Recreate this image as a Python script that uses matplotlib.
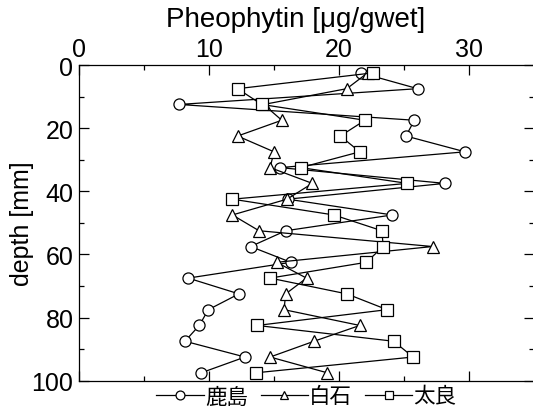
import matplotlib
matplotlib.use("Agg")
import matplotlib.pyplot as plt
from matplotlib.ticker import MultipleLocator

plt.rcParams['font.family'] = ['Liberation Sans', 'Noto Sans CJK JP', 'DejaVu Sans']

depth = [2.5, 7.5, 12.5, 17.5, 22.5, 27.5, 32.5, 37.5, 42.5, 47.5,
         52.5, 57.5, 62.5, 67.5, 72.5, 77.5, 82.5, 87.5, 92.5, 97.5]
kashima = [21.7, 26.05, 7.7, 25.8, 25.15, 29.7, 15.46, 28.15, 16.05, 24.1,
           15.9, 13.2, 16.3, 8.4, 12.3, 9.95, 9.25, 8.15, 12.77, 9.4]
shiraishi = [22.2, 20.6, 14.2, 15.6, 12.2, 15.0, 14.7, 17.95, 16.0, 11.8,
             13.85, 27.2, 15.2, 17.5, 15.9, 15.77, 21.6, 18.08, 14.7, 19.1]
tara = [22.6, 12.2, 14.05, 22.0, 20.1, 21.6, 17.05, 25.26, 11.8, 19.6,
        23.3, 23.4, 22.1, 14.7, 20.6, 23.7, 13.7, 24.2, 25.7, 13.6]
series_names = ['鹿島', '白石', '太良']

fig = plt.figure(figsize=(5.33, 4.14), dpi=100)
ax = fig.add_axes([79/533, (414-381.7)/414, 455/533, (381.7-66)/414])

for vals, mk, name in zip([kashima, shiraishi, tara], ['o', '^', 's'], series_names):
    ax.plot(vals, depth, color='black', lw=0.9, marker=mk, markersize=8,
            markerfacecolor='white', markeredgecolor='black', markeredgewidth=0.9,
            label=name)

ax.set_xlim(0, 35)
ax.set_ylim(100, 0)
ax.xaxis.set_major_locator(MultipleLocator(10))
ax.xaxis.set_minor_locator(MultipleLocator(5))
ax.yaxis.set_major_locator(MultipleLocator(20))
ax.yaxis.set_minor_locator(MultipleLocator(10))
ax.tick_params(which='both', direction='in', top=True, right=True,
               bottom=True, left=True, labeltop=True, labelbottom=False,
               labelsize=18, width=0.9, pad=4)
ax.tick_params(axis='x', which='both', pad=3)
ax.tick_params(which='major', length=7)
ax.tick_params(which='minor', length=3.6)
for s in ax.spines.values():
    s.set_linewidth(0.9)

ax.xaxis.set_label_position('top')
ax.set_xlabel('Pheophytin [\u03bcg/gwet]', fontsize=20)
ax.xaxis.set_label_coords((295.8-79)/455, 1.0 + 39/315.7)
ax.set_ylabel('depth [mm]', fontsize=18)
ax.yaxis.set_label_coords((34-79)/455, 0.5)

fig.legend(loc='center', bbox_to_anchor=(306.5/533, 16/414), ncol=3,
           frameon=False, fontsize=15.5, handlelength=2.2, handletextpad=0.05,
           columnspacing=0.6, markerscale=0.8, borderpad=0, borderaxespad=0)

fig.savefig('out.png', dpi=100)
